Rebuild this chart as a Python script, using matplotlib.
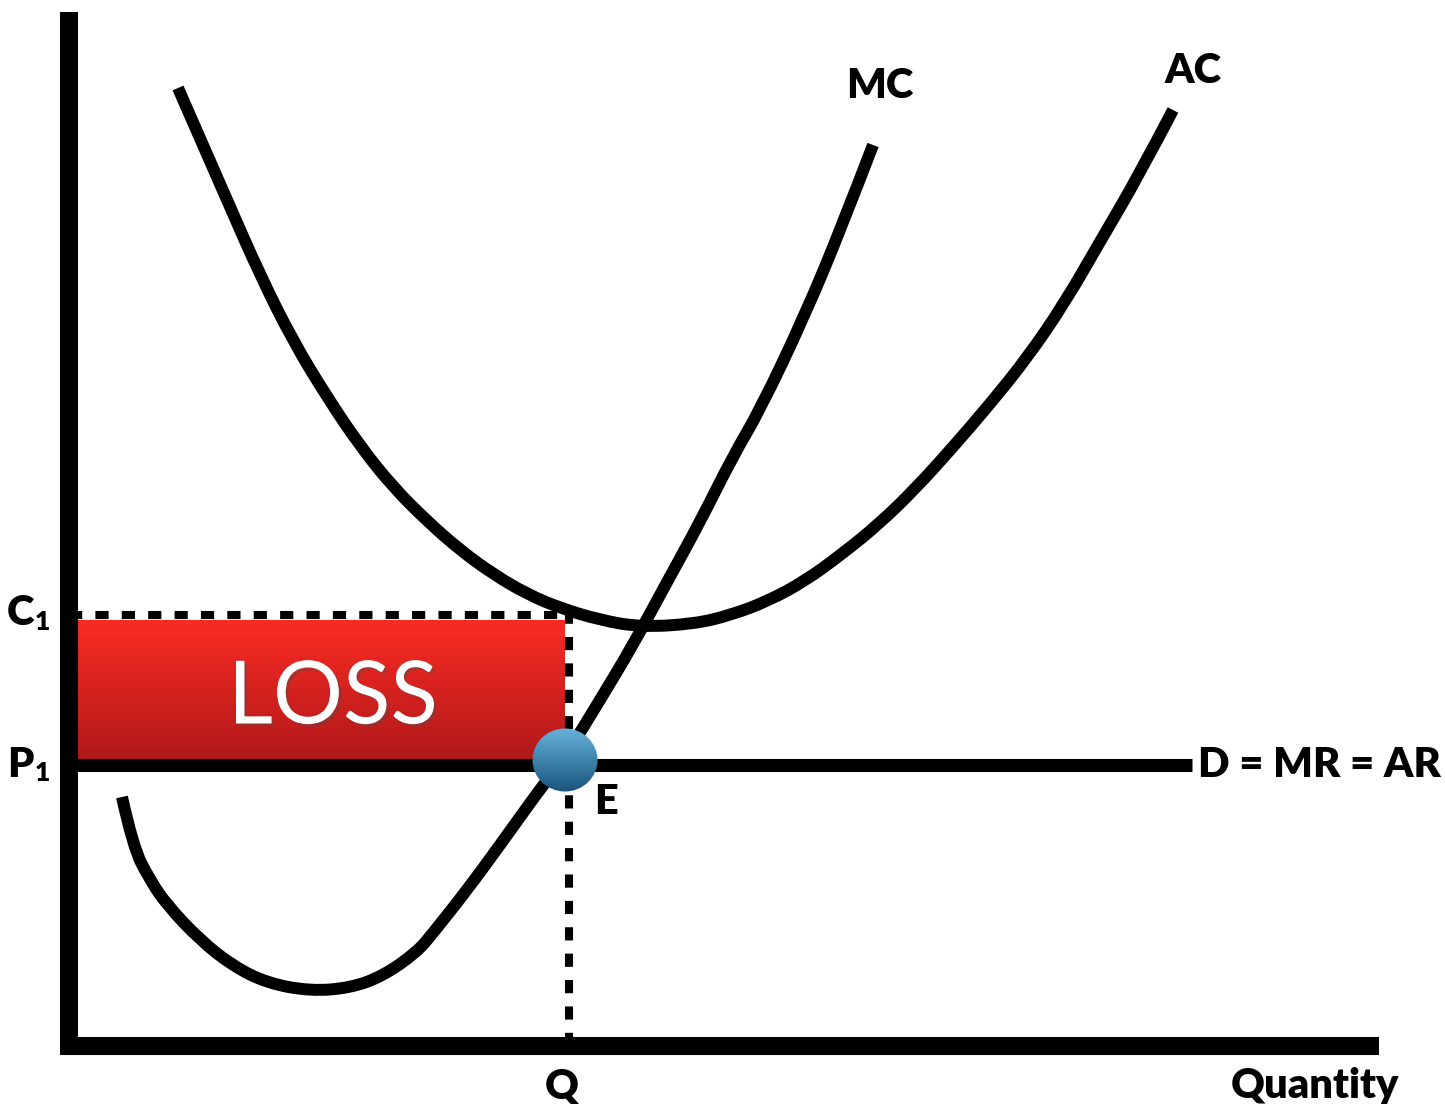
import numpy as np
import matplotlib.pyplot as plt
from matplotlib.patches import Ellipse, PathPatch
from matplotlib.path import Path
import matplotlib.patheffects as pe

plt.rcParams['lines.scale_dashes'] = False

# points, (quantity, price), origin at the axis corner
ac_q = [109, 158, 191, 224, 258, 291, 324, 358, 391, 424, 458, 491, 531, 571,
        625, 662, 699, 736, 773, 810, 847, 884, 921, 958, 995, 1032, 1070, 1104]
ac_p = [958, 846, 771, 705, 649, 600, 559, 525, 496, 472, 452, 438, 426, 419,
        422, 431, 445, 465, 492, 522, 558, 599, 642, 688, 742, 806, 871, 936]

mc_q = [53, 64, 81, 98, 131, 164, 198, 241, 281, 314, 348, 364, 398, 431,
        474, 496, 531, 564, 598, 631, 664, 691, 736, 773, 804]
mc_p = [249, 199, 166, 141, 106, 80, 63, 55, 58, 70, 94, 113, 156, 201,
        261, 289, 346, 401, 464, 524, 590, 636, 731, 820, 901]

c1 = 431        # average cost at Q
p1 = 281        # price = MR = AR
q_eq = 498      # output where MR = MC
d_end = 1123    # right end of the demand line
q_max = 1310
p_max = 1034

FONT = ['Lato', 'DejaVu Sans']


def gradient(c_bottom, c_top, n=256):
    c_bottom = np.array(plt.matplotlib.colors.to_rgb(c_bottom))
    c_top = np.array(plt.matplotlib.colors.to_rgb(c_top))
    t = np.linspace(0, 1, n)[:, None]
    return (c_bottom + (c_top - c_bottom) * t)[:, None, :]


def smooth_path(xs, ys):
    # read points used as quadratic control points, so the stroke has no corners
    pts = list(zip(xs, ys))
    verts = [pts[0]]
    codes = [Path.MOVETO]
    for i in range(1, len(pts) - 1):
        nxt = pts[i + 1] if i == len(pts) - 2 else (
            (pts[i][0] + pts[i + 1][0]) / 2, (pts[i][1] + pts[i + 1][1]) / 2)
        verts += [pts[i], nxt]
        codes += [Path.CURVE3, Path.CURVE3]
    return Path(verts, codes)


fig = plt.figure(figsize=(14.45, 11.04), dpi=100)
ax = fig.add_axes([0, 0, 1, 1])
ax.set_xlim(-69, 1376)
ax.set_ylim(-58, 1046)
ax.axis('off')

# loss rectangle
ax.imshow(gradient('#ad1819', '#fb2b24'), extent=[0, q_eq - 2, p1, c1 - 5],
          origin='lower', aspect='auto', zorder=1)
ax.text(264, 347, 'LOSS', color='white', fontsize=63,
        family=FONT, ha='center', va='center', zorder=2,
        path_effects=[pe.withSimplePatchShadow(offset=(2, -2), alpha=0.35)])

# dashed guides
ax.plot([0, q_eq + 2], [c1, c1], color='black', lw=5.8, dashes=(9.5, 9.5),
        dash_capstyle='butt', zorder=2)
ax.plot([q_eq + 2, q_eq + 2], [0, c1], color='black', lw=5.8, dashes=(9.5, 9.5),
        dash_capstyle='butt', zorder=2)

# curves
for qs, ps in [(ac_q, ac_p), (mc_q, mc_p)]:
    ax.add_patch(PathPatch(smooth_path(qs, ps), fill=False, edgecolor='black',
                           lw=8.6, capstyle='butt', joinstyle='round', zorder=3))
ax.plot([0, d_end], [p1, p1], color='black', lw=9.4, solid_capstyle='butt', zorder=3)

# axes
ax.plot([0, 0], [-9, p_max], color='black', lw=13, solid_capstyle='butt', zorder=4)
ax.plot([-9, q_max], [0, 0], color='black', lw=13, solid_capstyle='butt', zorder=4)

# equilibrium dot
dot = Ellipse((q_eq - 2, p1 + 5), 65, 63, facecolor='none', edgecolor='none')
ax.add_patch(dot)
im = ax.imshow(gradient('#19547a', '#66b2dc'),
               extent=[q_eq - 35, q_eq + 31, p1 - 27, p1 + 37],
               origin='lower', aspect='auto', zorder=5)
im.set_clip_path(dot)

lab = dict(color='black', fontsize=30, fontweight='heavy', family=FONT,
           ha='center', va='center')
ax.text(811, 960, 'MC', **lab)
ax.text(1124, 975, 'AC', **lab)
ax.text(537, 244, 'E', **lab)
ax.text(493, -40, 'Q', **lab)
ax.text(1246, -40, 'Quantity', **lab)
ax.text(1129, p1, 'D = MR = AR', **{**lab, 'ha': 'left'})
ax.text(-49, c1 + 2, 'C', **lab)
ax.text(-27, c1 - 7, '1', **{**lab, 'fontsize': 19})
ax.text(-49, p1, 'P', **lab)
ax.text(-27, p1 - 8, '1', **{**lab, 'fontsize': 19})

fig.savefig('out.png', dpi=100)
